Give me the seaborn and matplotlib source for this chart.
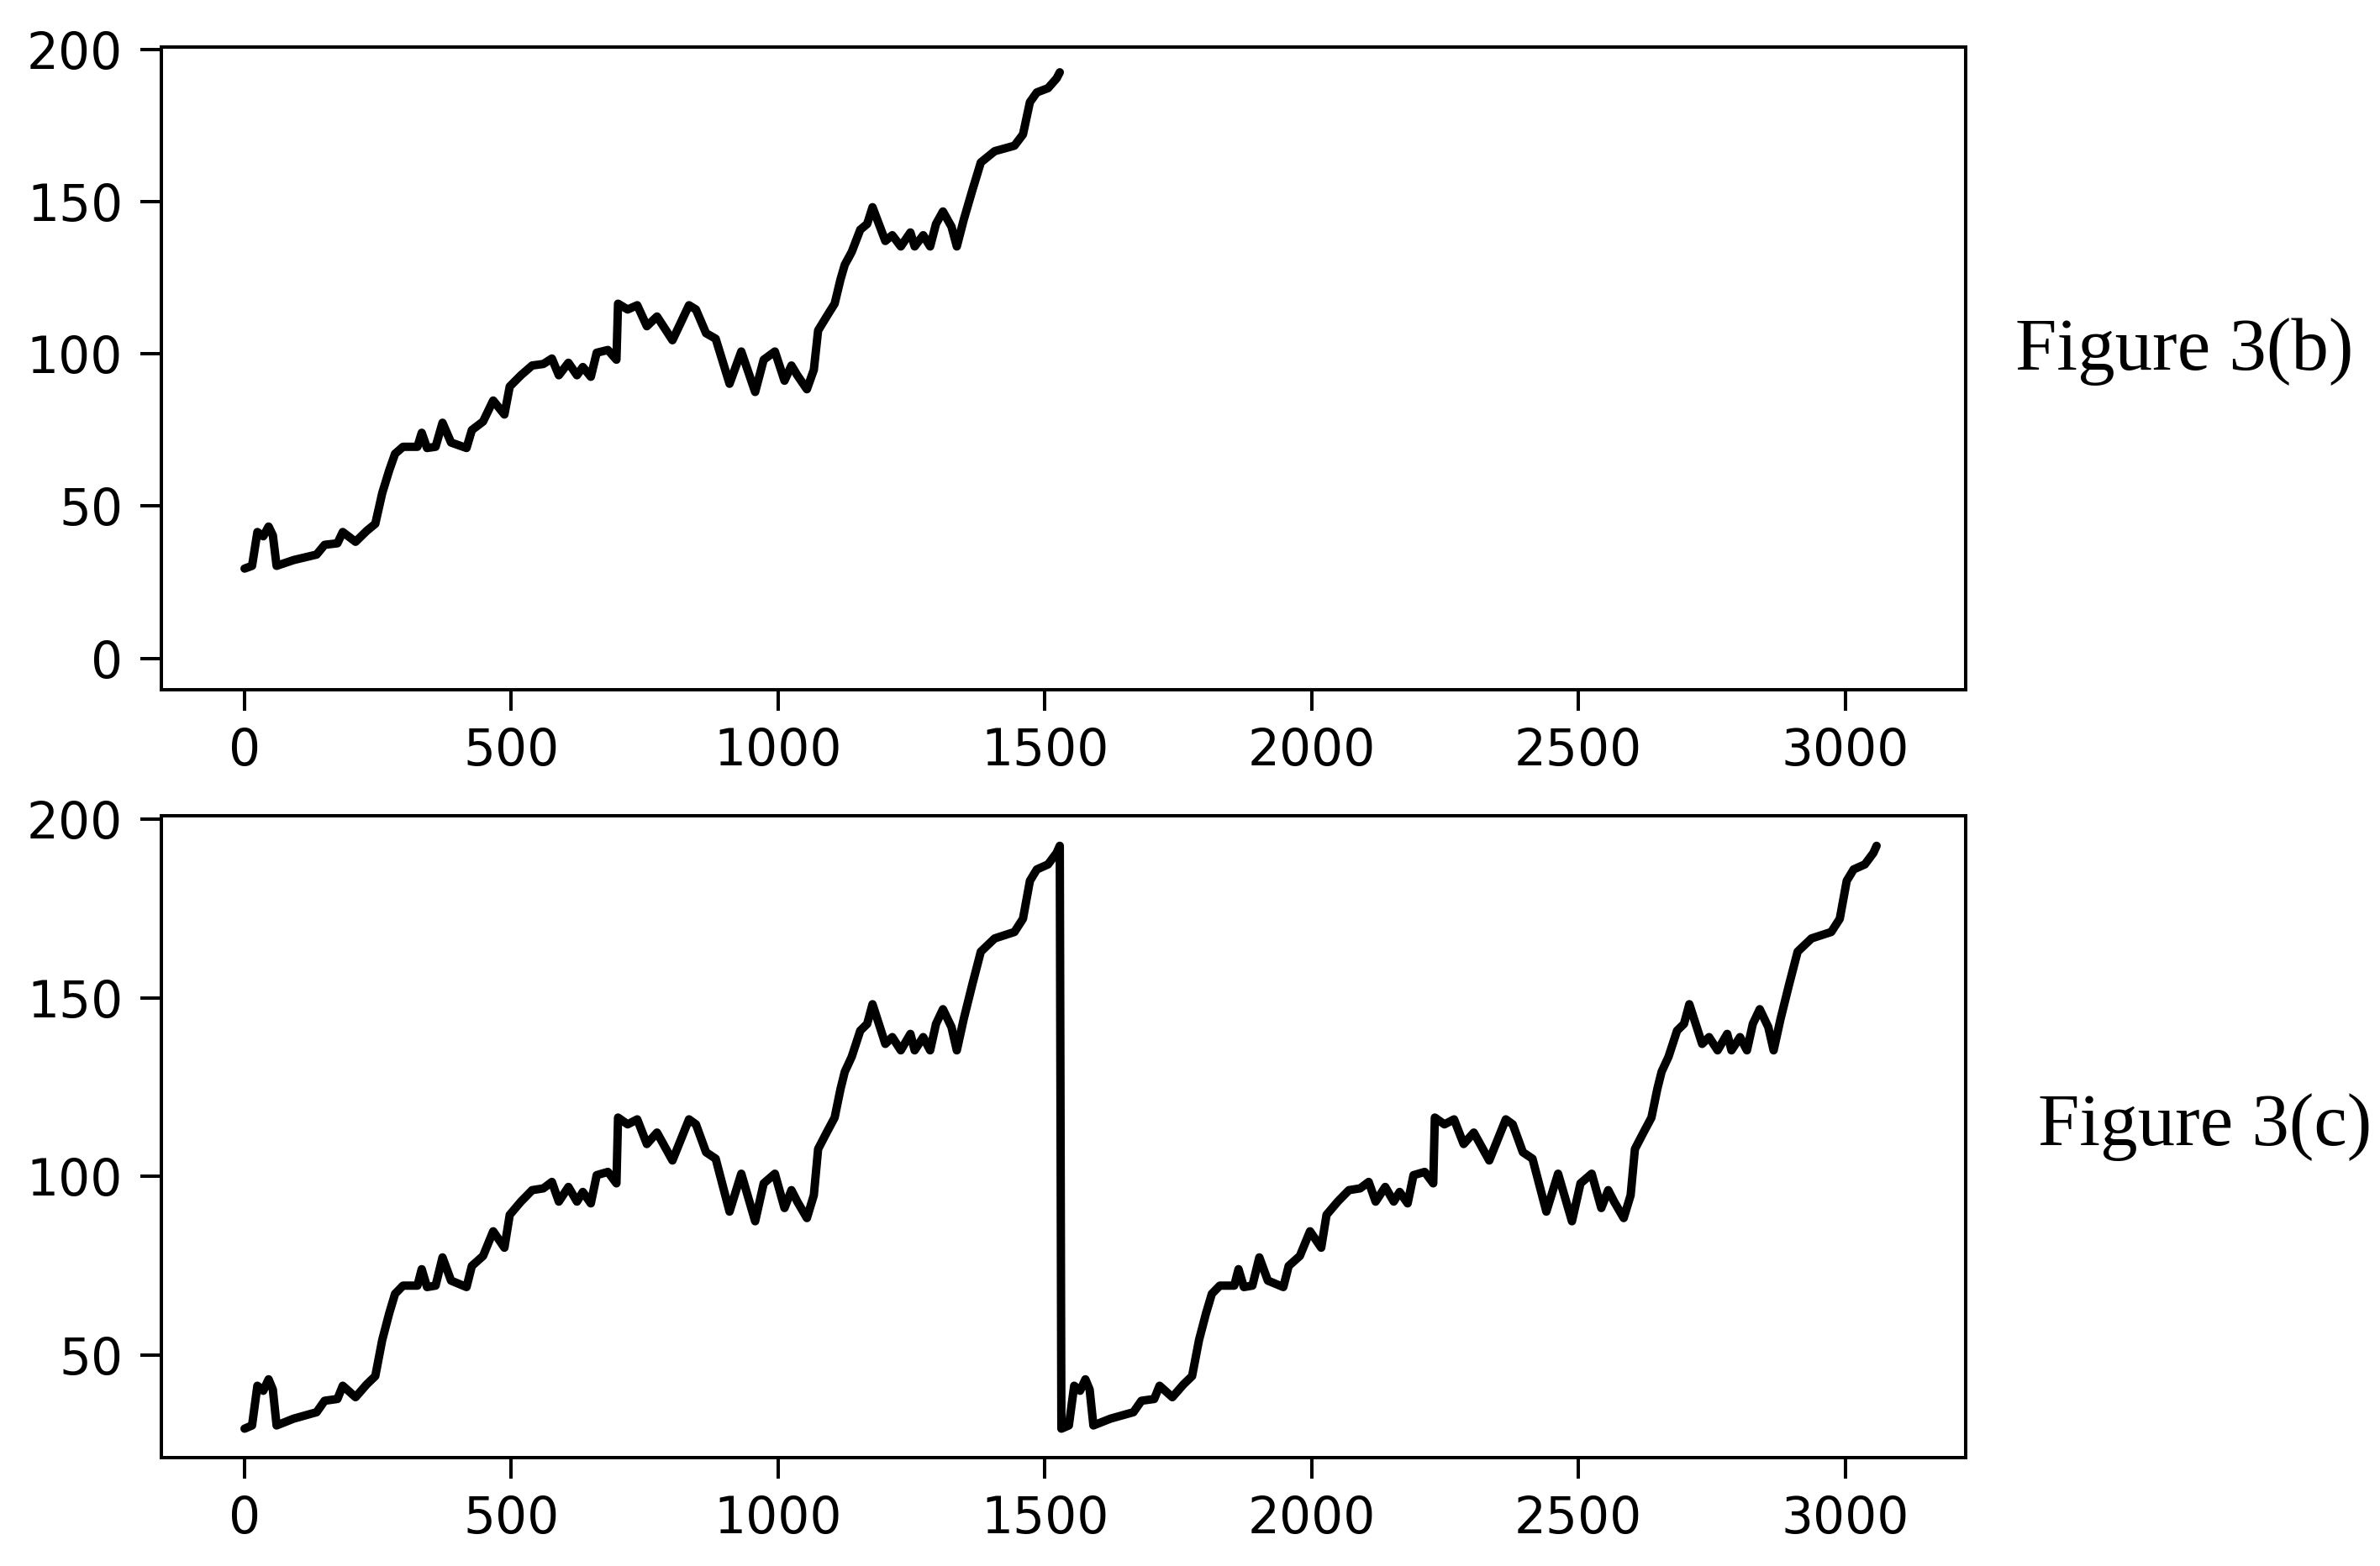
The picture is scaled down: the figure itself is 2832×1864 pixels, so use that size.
import numpy as np
import pandas as pd
import matplotlib
matplotlib.use("Agg")
import matplotlib.pyplot as plt
import seaborn as sns

# ---- data (one pass of the series) ----
step_idx = [0, 14, 24, 35, 45, 53, 60, 92, 135, 150, 174, 184, 208, 229, 245,
            258, 271, 282, 297, 324, 332, 342, 358, 371, 387, 416, 426, 447,
            466, 487, 497, 518, 539, 560, 576, 589, 607, 623, 634, 649, 660,
            681, 697, 700, 718, 736, 754, 773, 802, 833, 846, 865, 883, 909,
            931, 957, 973, 994, 1012, 1025, 1036, 1054, 1067, 1075, 1091, 1106,
            1117, 1125, 1138, 1154, 1167, 1177, 1201, 1214, 1230, 1248, 1256,
            1272, 1285, 1296, 1309, 1325, 1335, 1348, 1364, 1380, 1406, 1443,
            1459, 1472, 1485, 1506, 1522, 1528]
step_val = [29.5, 30.4, 41.5, 40.1, 43.3, 40.4, 30.4, 32.3, 34.1, 37.3, 37.8,
            41.5, 38.3, 41.9, 44.2, 54.3, 61.7, 67.2, 69.5, 69.5, 74.1, 69.1,
            69.5, 77.4, 70.9, 69.1, 75.0, 77.8, 84.7, 80.1, 89.3, 93.0, 96.2,
            96.7, 98.5, 93.0, 97.1, 93.0, 95.7, 92.5, 100.4, 101.3, 98.1,
            116.5, 114.6, 116.0, 109.1, 112.3, 104.5, 116.0, 114.6, 106.8,
            105.0, 90.2, 100.8, 87.5, 98.1, 100.8, 91.2, 96.2, 93.0, 88.4,
            94.8, 107.7, 112.3, 116.5, 124.5, 129.3, 133.5, 140.8, 142.7,
            148.2, 137.1, 139.0, 135.3, 139.9, 135.3, 139.0, 135.3, 142.7,
            146.8, 141.8, 135.3, 144.1, 153.7, 162.9, 166.6, 168.4, 172.1,
            182.7, 185.9, 187.3, 190.5, 192.5]
series_len = 1531            # length of one pass; panel (c) repeats it twice
x_ticks = [0, 500, 1000, 1500, 2000, 2500, 3000]
y_ticks_b = [0, 50, 100, 150, 200]
y_ticks_c = [50, 100, 150, 200]
labels = ["Figure 3(b)", "Figure 3(c)"]

df_b = pd.DataFrame({"step": step_idx, "value": step_val})
df_c = pd.DataFrame({
    "step": np.concatenate([np.array(step_idx), np.array(step_idx) + series_len]),
    "value": np.concatenate([step_val, step_val]),
})

# ---- style ----
sns.set_style("ticks")
plt.rcParams.update({
    "font.family": ["DejaVu Sans"],
    "axes.edgecolor": "black",
    "axes.linewidth": 2.9,
    "xtick.color": "black",
    "ytick.color": "black",
    "xtick.major.size": 18,
    "ytick.major.size": 18,
    "xtick.major.width": 2.9,
    "ytick.major.width": 2.9,
    "xtick.major.pad": 14,
    "ytick.major.pad": 15,
    "xtick.labelsize": 43,
    "ytick.labelsize": 43,
})

W, H = 2832, 1864
fig = plt.figure(figsize=(W / 100, H / 100), dpi=100)
ax_b = fig.add_axes([192 / W, 1 - 821 / H, (2339 - 192) / W, (821 - 56) / H])
ax_c = fig.add_axes([192 / W, 1 - 1735 / H, (2339 - 192) / W, (1735 - 971) / H])

for ax, df in ((ax_b, df_b), (ax_c, df_c)):
    sns.lineplot(data=df, x="step", y="value", ax=ax, color="black",
                 linewidth=7.2, estimator=None, sort=True)
    ax.set_xlim(-156, 3226)
    ax.set_xticks(x_ticks)
    ax.set_xlabel("")
    ax.set_ylabel("")
    for s in ax.spines.values():
        s.set_visible(True)

ax_b.set_ylim(-10.3, 200.8)
ax_b.set_yticks(y_ticks_b)
ax_c.set_ylim(21.4, 200.9)
ax_c.set_yticks(y_ticks_c)

fig.text(2398 / W, 1 - 440 / H, labels[0], fontsize=64, color="black",
         family=["Liberation Serif", "DejaVu Serif"], va="baseline", ha="left")
fig.text(2425 / W, 1 - 1363 / H, labels[1], fontsize=64, color="black",
         family=["Liberation Serif", "DejaVu Serif"], va="baseline", ha="left")

fig.savefig("out.png", dpi=100, facecolor="white")
